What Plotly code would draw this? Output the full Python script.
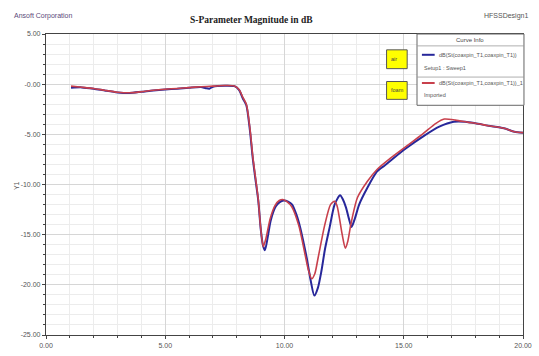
import plotly.graph_objects as go

# Frequency (GHz) and S11 magnitude (dB) for the simulated sweep and the imported measurement
freq_sweep = [1.05, 1.5, 2.0, 2.5, 3.0, 3.5, 4.0, 4.5, 5.0, 5.5, 6.0, 6.5, 6.7, 6.85, 7.0,
              7.5, 7.9, 8.1, 8.25, 8.4, 8.55, 8.67, 8.8, 8.9, 9.01, 9.1, 9.18, 9.3, 9.42,
              9.63, 9.8, 9.97, 10.15, 10.32, 10.5, 10.66, 10.8, 10.93, 11.1, 11.25, 11.4,
              11.55, 11.7, 11.89, 12.1, 12.33, 12.45, 12.58, 12.7, 12.81, 12.95, 13.13,
              13.47, 13.88, 14.2, 14.57, 15.1, 15.8, 16.49, 17.1, 17.58, 18.0, 18.55, 19.2,
              19.64, 20.0]
s11_sweep = [-0.35, -0.32, -0.45, -0.65, -0.82, -0.88, -0.76, -0.62, -0.52, -0.45, -0.35,
             -0.28, -0.4, -0.45, -0.25, -0.15, -0.2, -0.6, -1.4, -2.1, -4.6, -7.4, -9.8,
             -11.6, -14.6, -16.1, -16.55, -15.2, -13.6, -12.2, -11.75, -11.6, -11.7, -12.0,
             -13.0, -14.3, -15.8, -17.3, -19.6, -21.07, -20.3, -18.6, -16.4, -14.3, -12.0,
             -11.07, -11.5, -12.3, -13.4, -14.24, -13.4, -12.0, -10.35, -8.7, -8.1, -7.38,
             -6.39, -5.23, -4.24, -3.75, -3.75, -3.9, -4.14, -4.4, -4.74, -4.83]

freq_import = [1.05, 1.5, 2.0, 2.5, 3.0, 3.5, 4.0, 4.5, 5.0, 5.5, 6.0, 6.5, 7.0, 7.5, 7.9,
               8.1, 8.25, 8.4, 8.55, 8.67, 8.8, 8.9, 9.0, 9.11, 9.22, 9.4, 9.6, 9.78, 9.93,
               10.1, 10.3, 10.6, 10.86, 11.0, 11.14, 11.27, 11.41, 11.69, 11.93, 12.1, 12.2,
               12.3, 12.42, 12.55, 12.66, 12.78, 13.06, 13.47, 13.88, 14.43, 15.1, 15.8,
               16.35, 16.7, 17.17, 17.72, 18.0, 18.55, 19.2, 19.64, 20.0]
s11_import = [-0.2, -0.3, -0.43, -0.63, -0.8, -0.86, -0.75, -0.6, -0.5, -0.43, -0.34, -0.26,
              -0.2, -0.13, -0.18, -0.55, -1.3, -2.0, -4.4, -7.2, -9.6, -11.5, -14.3, -16.2,
              -15.4, -13.4, -12.1, -11.6, -11.5, -11.7, -12.2, -14.1, -16.95, -18.5, -19.4,
              -18.9, -17.3, -14.0, -12.0, -11.67, -12.1, -13.3, -15.0, -16.35, -15.6, -14.0,
              -11.3, -9.7, -8.5, -7.4, -6.2, -4.95, -3.9, -3.48, -3.58, -3.81, -3.9, -4.14,
              -4.4, -4.74, -4.83]

y_tick_vals = [-25, -20, -15, -10, -5, 0, 5]
y_tick_text = ["-25.00", "-20.00", "-15.00", "-10.00", "-5.00", "-0.00", "5.00"]
x_tick_vals = [0, 5, 10, 15, 20]
x_tick_text = ["0.00", "5.00", "10.00", "15.00", "20.00"]

trace_names = ["dB(St(coaxpin_T1,coaxpin_T1))", "dB(St(coaxpin_T1,coaxpin_T1))_1"]
trace_sources = ["Setup1 : Sweep1", "Imported"]
marker_labels = ["air", "foam"]

BLUE = "#27279a"
RED = "#c8404c"

W, H = 539, 356
ML, MR, MT, MB = 46, 7, 34, 18
PW, PH = W - ML - MR, H - MT - MB


def px(x):
    return (x - ML) / PW


def py(y):
    return (H - MB - y) / PH


fig = go.Figure()
fig.add_trace(go.Scatter(x=freq_sweep, y=s11_sweep, mode="lines", name=trace_names[0],
                         line=dict(color=BLUE, width=2, shape="spline", smoothing=0.7)))
fig.add_trace(go.Scatter(x=freq_import, y=s11_import, mode="lines", name=trace_names[1],
                         line=dict(color=RED, width=1.6, shape="spline", smoothing=0.7)))

tick_font = dict(family="Liberation Sans", size=7, color="#555555")

fig.update_xaxes(range=[0, 20], tickvals=x_tick_vals, ticktext=x_tick_text,
                 ticklabeloverflow="allow",
                 showline=True, linecolor="#444444", linewidth=1.2, mirror=True,
                 ticks="outside", ticklen=3, tickcolor="#444444", tickfont=tick_font,
                 showgrid=True, gridcolor="#d6d6d6", gridwidth=1, zeroline=False,
                 minor=dict(dtick=1, showgrid=True, gridcolor="#ececec",
                            ticks="outside", ticklen=2, tickcolor="#444444"))
fig.update_yaxes(range=[-25, 5], tickvals=y_tick_vals, ticktext=y_tick_text,
                 ticklabeloverflow="allow",
                 showline=True, linecolor="#444444", linewidth=1.2, mirror=True,
                 ticks="outside", ticklen=3, tickcolor="#444444", tickfont=tick_font,
                 showgrid=True, gridcolor="#d6d6d6", gridwidth=1, zeroline=False,
                 minor=dict(dtick=1, showgrid=True, gridcolor="#ececec",
                            ticks="outside", ticklen=2, tickcolor="#444444"))

shapes = []
annotations = []

# Curve info box
shapes.append(dict(type="rect", xref="paper", yref="paper", x0=px(424), x1=px(533),
                   y0=py(106), y1=py(34), fillcolor="white", line=dict(color="#666666", width=1),
                   layer="above"))
for ysep in (46, 77.5):
    shapes.append(dict(type="line", xref="paper", yref="paper", x0=px(424), x1=px(533),
                       y0=py(ysep), y1=py(ysep), line=dict(color="#999999", width=0.8),
                       layer="above"))
annotations.append(dict(text="Curve Info", xref="paper", yref="paper", x=px(478), y=py(40.5),
                        showarrow=False, font=dict(family="Liberation Sans", size=6, color="#444444"),
                        xanchor="center", yanchor="middle"))
for i, (color, ny, sy) in enumerate([(BLUE, 55, 68), (RED, 83.5, 95.5)]):
    shapes.append(dict(type="line", xref="paper", yref="paper", x0=px(429), x1=px(442),
                       y0=py(ny), y1=py(ny), line=dict(color=color, width=2), layer="above"))
    annotations.append(dict(text=trace_names[i], xref="paper", yref="paper", x=px(444), y=py(ny),
                            showarrow=False, xanchor="left", yanchor="middle",
                            font=dict(family="Liberation Sans", size=5.5, color="#555555")))
    annotations.append(dict(text=trace_sources[i], xref="paper", yref="paper", x=px(429), y=py(sy),
                            showarrow=False, xanchor="left", yanchor="middle",
                            font=dict(family="Liberation Sans", size=5.5, color="#555555")))

# Yellow material tags
for label, (y0, y1) in zip(marker_labels, [(50, 69), (82, 100)]):
    shapes.append(dict(type="rect", xref="paper", yref="paper", x0=px(393), x1=px(414),
                       y0=py(y1), y1=py(y0), fillcolor="#ffff00",
                       line=dict(color="#555555", width=1), layer="above"))
    annotations.append(dict(text=label, xref="paper", yref="paper", x=px(395), y=py((y0 + y1) / 2),
                            showarrow=False, xanchor="left", yanchor="middle",
                            font=dict(family="Liberation Sans", size=5.5, color="#444444")))

# Header texts
annotations.append(dict(text="Ansoft Corporation", xref="paper", yref="paper", x=px(11), y=py(16),
                        showarrow=False, xanchor="left", yanchor="middle",
                        font=dict(family="Liberation Sans", size=7, color="#5a4a7a")))
annotations.append(dict(text="HFSSDesign1", xref="paper", yref="paper", x=px(539), y=py(16),
                        showarrow=False, xanchor="right", yanchor="middle",
                        font=dict(family="Liberation Sans", size=7, color="#555555")))
annotations.append(dict(text="<b>S-Parameter Magnitude in dB</b>", xref="paper", yref="paper",
                        x=px(255), y=py(20), showarrow=False, xanchor="center", yanchor="middle",
                        font=dict(family="Liberation Serif", size=9.5, color="#222222")))
annotations.append(dict(text="Y1", xref="paper", yref="paper", x=px(16), y=py(187),
                        showarrow=False, textangle=-90, xanchor="center", yanchor="middle",
                        font=dict(family="Liberation Sans", size=7, color="#555555")))

fig.update_layout(width=W, height=H, autosize=False,
                  margin=dict(l=ML, r=MR, t=MT, b=MB, pad=0),
                  paper_bgcolor="white", plot_bgcolor="white", showlegend=False,
                  shapes=shapes, annotations=annotations)

fig.write_html("out.html")
